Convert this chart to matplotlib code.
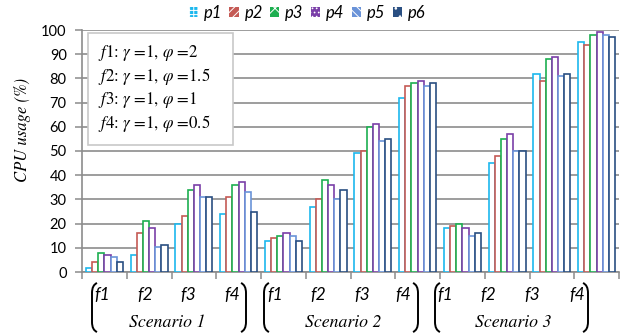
import matplotlib
matplotlib.use("Agg")
import matplotlib.pyplot as plt
import numpy as np
from matplotlib.patches import Rectangle, Patch, PathPatch
from matplotlib.path import Path

# CPU usage (%) per configuration: 3 scenarios x 4 functions (f1..f4)
series_names = ["p1", "p2", "p3", "p4", "p5", "p6"]
p1 = [1.5, 7, 20, 24, 13, 27, 49, 72, 18, 45, 82, 95]
p2 = [4, 16, 23, 31, 14, 30, 50, 77, 19, 48, 79, 94]
p3 = [8, 21, 34, 36, 15, 38, 60, 78, 20, 55, 88, 98]
p4 = [7, 18, 36, 37, 16, 36, 61, 79, 18, 57, 89, 99]
p5 = [6, 10.5, 31, 33, 15, 30, 54, 77, 15, 50, 81, 98]
p6 = [4, 11, 31, 25, 13, 34, 55, 78, 16, 50, 82, 97]
series = [p1, p2, p3, p4, p5, p6]

functions = ["f1", "f2", "f3", "f4"]
scenarios = ["Scenario 1", "Scenario 2", "Scenario 3"]
yticks = [0, 10, 20, 30, 40, 50, 60, 70, 80, 90, 100]
box_lines = [r"$\mathit{f1}$: $\gamma$ =1, $\varphi$ =2",
             r"$\mathit{f2}$: $\gamma$ =1, $\varphi$ =1.5",
             r"$\mathit{f3}$: $\gamma$ =1, $\varphi$ =1",
             r"$\mathit{f4}$: $\gamma$ =1, $\varphi$ =0.5"]

colors = ["#1CB8EE", "#C55A55", "#1DAF50", "#7A3FA8", "#6A93D8", "#2A4F82"]
hatches = ["++++", "////", "xx", "....", "\\\\\\\\", ".."]

SERIF = "STIXGeneral"
SANS = "Lato"

plt.rcParams["mathtext.fontset"] = "stix"
plt.rcParams["hatch.linewidth"] = 0.7
W, H = 624, 335
fig = plt.figure(figsize=(W / 100, H / 100), dpi=100)

def fx(px):
    return px / W

def fy(py):
    return 1 - py / H

ax = fig.add_axes([fx(82), fy(272), fx(619) - fx(82), fy(30) - fy(272)])

n_groups = len(p1)
x = np.arange(n_groups)
bw = 0.138
for i, (vals, c) in enumerate(zip(series, colors)):
    off = (i - 2.5) * bw
    ax.bar(x + off, vals, width=bw, facecolor="white", edgecolor=c,
           linewidth=1.2, zorder=3)

ax.set_xlim(-0.5, n_groups - 0.5)
ax.set_ylim(0, 100)
ax.set_yticks(yticks)
ax.set_yticklabels([str(t) for t in yticks], fontfamily=SANS, fontsize=10.5)
ax.set_xticks(np.arange(-0.5, n_groups, 1.0))
ax.set_xticklabels([])
ax.tick_params(axis="y", direction="out", length=5, width=1.1, color="#8C8C8C", pad=6)
ax.tick_params(axis="x", direction="out", length=5, width=1.1, color="#8C8C8C")
ax.yaxis.grid(True, color="#8C8C8C", linewidth=1.2, zorder=0)
ax.set_axisbelow(True)
for s in ["top", "right"]:
    ax.spines[s].set_visible(False)
for s in ["left", "bottom"]:
    ax.spines[s].set_color("#8C8C8C")
    ax.spines[s].set_linewidth(1.2)

# y axis label
fig.text(fx(23), fy(130), "CPU usage (%)", rotation=90, ha="center", va="center",
         fontfamily=SERIF, fontstyle="italic", fontsize=12)

# parameter box
fig.patches.append(Rectangle((fx(88), fy(145)), fx(233) - fx(88), fy(33) - fy(145),
                             transform=fig.transFigure, facecolor="white",
                             edgecolor="#C8C8C8", linewidth=1.2, zorder=5))
for k, line in enumerate(box_lines):
    fig.text(fx(98), fy(53 + k * 23.5), line, ha="left", va="center",
             fontfamily=SERIF, fontsize=12.2, zorder=6)

# legend
handles = [Patch(facecolor=c, edgecolor="white", hatch=h, linewidth=0.0)
           for c, h in zip(colors, hatches)]
leg = fig.legend(handles, series_names, loc="center", bbox_to_anchor=(fx(307), fy(13)),
                 ncol=6, frameon=False, handlelength=0.55, handleheight=0.55,
                 handletextpad=0.35, columnspacing=0.45,
                 prop={"family": SANS, "style": "italic", "size": 12})
for h in leg.legend_handles:
    h.set_edgecolor("white")

# category labels under the axis
f_label_px = [[102, 145, 188, 232], [275, 318, 362, 403], [445, 488, 532, 577]]
scen_px = [167, 343, 513]
paren_px = [(92, 246), (264, 418), (435, 588)]
for s, name in enumerate(scenarios):
    for j, fn in enumerate(functions):
        fig.text(fx(f_label_px[s][j]), fy(295), fn, ha="center", va="center",
                 fontfamily=SANS, fontstyle="italic", fontsize=12.5)
    fig.text(fx(scen_px[s]), fy(323), name, ha="center", va="center",
             fontfamily=SERIF, fontstyle="italic", fontsize=12.8)
    xl, xr = paren_px[s]
    top, bot = 283, 332
    for xe, d in ((xl, 1), (xr, -1)):
        verts = [(xe + 5 * d, top), (xe, top + 2), (xe, top + 10),
                 (xe, bot - 10), (xe, bot - 2), (xe + 5 * d, bot)]
        codes = [Path.MOVETO, Path.CURVE3, Path.CURVE3,
                 Path.LINETO, Path.CURVE3, Path.CURVE3]
        pv = [(fx(a), fy(b)) for a, b in verts]
        fig.patches.append(PathPatch(Path(pv, codes), transform=fig.transFigure,
                                     facecolor="none", edgecolor="black", linewidth=1.4))

fig.savefig("out.png", dpi=100)
